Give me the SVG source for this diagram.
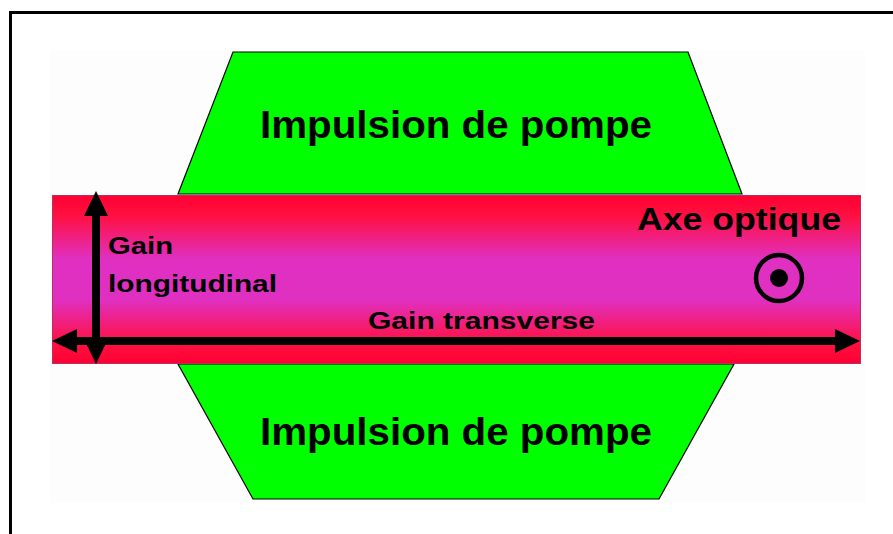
<svg xmlns="http://www.w3.org/2000/svg" width="893" height="534" viewBox="0 0 893 534">
  <defs>
    <linearGradient id="band" x1="0" y1="0" x2="0" y2="1">
      <stop offset="0" stop-color="#ff0033"/>
      <stop offset="0.12" stop-color="#ff1040"/>
      <stop offset="0.38" stop-color="#e030c2"/>
      <stop offset="0.62" stop-color="#e030c2"/>
      <stop offset="0.88" stop-color="#ff1040"/>
      <stop offset="1" stop-color="#ff0033"/>
    </linearGradient>
    <marker id="ah" viewBox="0 0 25 24" refX="0" refY="12" markerWidth="25" markerHeight="24" markerUnits="userSpaceOnUse" orient="auto-start-reverse">
      <path d="M0,0 L25,12 L0,24 z" fill="#000"/>
    </marker>
    <style>
      .pump { fill: #00ff00; stroke: #000; stroke-width: 1.2; }
      .big { font-family: "Liberation Sans", Arial, sans-serif; font-weight: bold; fill: #000; }
      .small { font-family: "Liberation Sans", Arial, sans-serif; font-weight: bold; fill: #000; font-size: 24px; }
      .arrow { stroke: #000; stroke-width: 8; fill: none; marker-start: url(#ah); marker-end: url(#ah); }
    </style>
  </defs>

  <rect x="0" y="0" width="893" height="534" fill="#fff"/>
  <rect x="10.5" y="12.5" width="900" height="600" fill="none" stroke="#000" stroke-width="3"/>
  <rect x="50" y="51" width="815" height="452" fill="#fdfdfd"/>

  <g id="pump-top">
    <polygon class="pump" points="233,52 688,52 742,194 178,194"/>
    <text class="big" x="260" y="138" font-size="39" textLength="392" lengthAdjust="spacingAndGlyphs">Impulsion de pompe</text>
  </g>

  <g id="pump-bottom">
    <polygon class="pump" points="178,364 734,364 659,499 253,499"/>
    <text class="big" x="260" y="445" font-size="39" textLength="392" lengthAdjust="spacingAndGlyphs">Impulsion de pompe</text>
  </g>

  <g id="gain-medium">
    <rect x="52.5" y="195.5" width="808" height="168" fill="url(#band)" stroke="#b83060" stroke-width="1"/>
    <text class="big" x="637" y="230" font-size="32" textLength="204" lengthAdjust="spacingAndGlyphs">Axe optique</text>
  </g>

  <g id="optical-axis-symbol">
    <circle cx="779" cy="278" r="23" fill="none" stroke="#000" stroke-width="4.5"/>
    <circle cx="779" cy="278" r="9" fill="#000"/>
  </g>

  <g id="connectors">
    <line class="arrow" x1="96" y1="216" x2="96" y2="339"/>
    <line class="arrow" x1="77" y1="341" x2="835" y2="341"/>
  </g>

  <g id="label-longitudinal">
    <text class="small" x="108" y="254" textLength="65" lengthAdjust="spacingAndGlyphs">Gain</text>
    <text class="small" x="108" y="292" textLength="169" lengthAdjust="spacingAndGlyphs">longitudinal</text>
  </g>

  <g id="label-transverse">
    <text class="small" x="368" y="329" textLength="227" lengthAdjust="spacingAndGlyphs">Gain transverse</text>
  </g>
</svg>
